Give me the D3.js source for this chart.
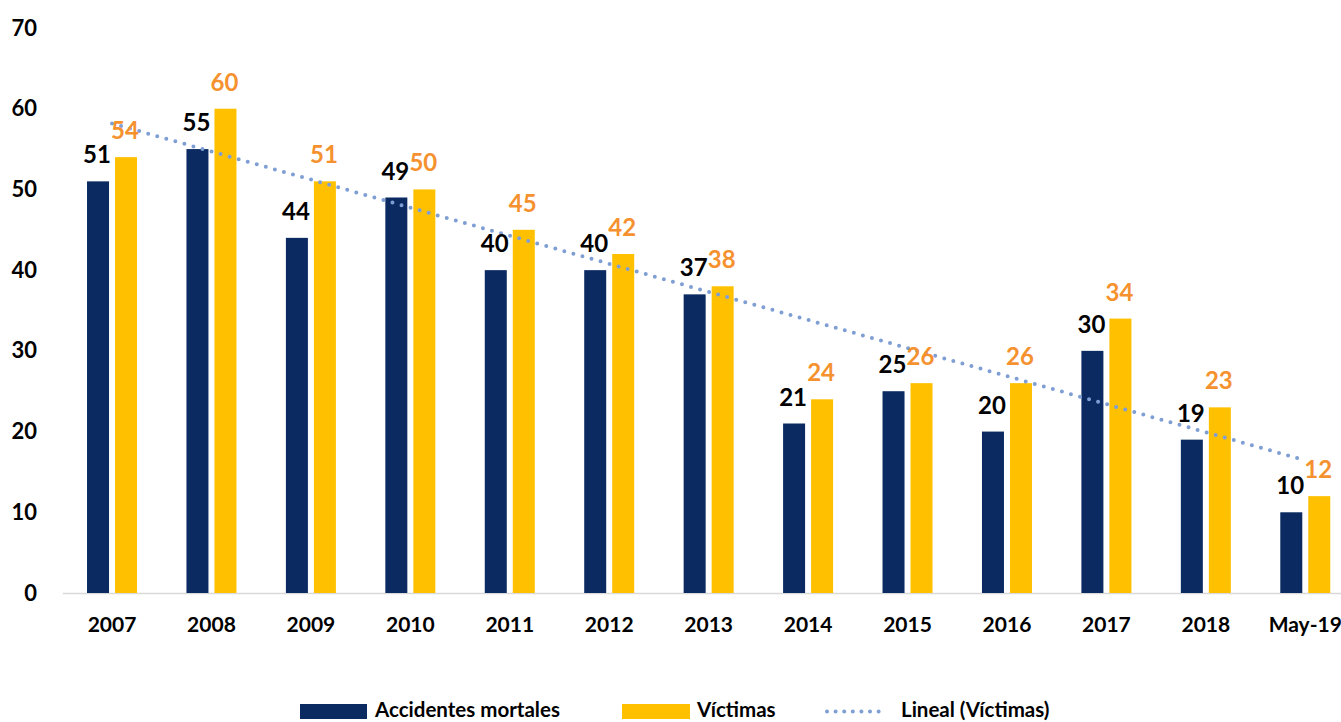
<!DOCTYPE html>
<html><head><meta charset="utf-8">
<script src="https://cdn.jsdelivr.net/npm/d3@7"></script>
<style>body{margin:0;background:#fff;overflow:hidden}svg{display:block}text{font-family:Lato,"Open Sans",sans-serif;font-weight:700}</style>
</head><body><svg id="c" width="1341" height="722"></svg>
<script>
const categories=["2007","2008","2009","2010","2011","2012","2013","2014","2015","2016","2017","2018","May-19"];
const accidentes=[51,55,44,49,40,40,37,21,25,20,30,19,10];
const victimas=[54,60,51,50,45,42,38,24,26,26,34,23,12];
const yTicks=[0,10,20,30,40,50,60,70];
const seriesNames=["Accidentes mortales","Víctimas","Lineal (Víctimas)"];

const svg=d3.select("#c");
const x=d3.scaleBand().domain(categories).range([62.3,1355]).paddingInner(0).paddingOuter(0);
const y=d3.scaleLinear().domain([0,70]).range([593,28]);
const bw=22,gap=6;
const navy="#0B2A62",gold="#FFC000",orange="#F5922F",trend="#7F9ED3";

// y axis labels
const ya=svg.append("g").attr("transform","translate(37,0)").call(d3.axisLeft(y).tickValues(yTicks).tickSize(0).tickPadding(0));
ya.select(".domain").remove();
ya.selectAll("text").attr("font-size",22).attr("fill","#000").style("font-family","Lato").style("font-weight",700);

// baseline axis
const xa=svg.append("g").attr("transform","translate(0,593)").call(d3.axisBottom(x).tickSize(0).tickPadding(24));
xa.select(".domain").attr("stroke","#D9D9D9").attr("stroke-width",1.5);
xa.selectAll("text").attr("font-size",21).attr("fill","#000").style("font-family","Lato").style("font-weight",700);

const cx=c=>x(c)+x.bandwidth()/2;
// bars
svg.append("g").selectAll("rect").data(categories).join("rect")
 .attr("x",(c)=>cx(c)-gap/2-bw).attr("width",bw)
 .attr("y",(c,i)=>y(accidentes[i])).attr("height",(c,i)=>y(0)-y(accidentes[i])).attr("fill",navy);
svg.append("g").selectAll("rect").data(categories).join("rect")
 .attr("x",(c)=>cx(c)+gap/2).attr("width",bw)
 .attr("y",(c,i)=>y(victimas[i])).attr("height",(c,i)=>y(0)-y(victimas[i])).attr("fill",gold);

// trendline (linear regression on victimas)
const n=victimas.length, xs=d3.range(1,n+1);
const mx=d3.mean(xs), my=d3.mean(victimas);
const slope=d3.sum(xs,(v,i)=>(v-mx)*(victimas[i]-my))/d3.sum(xs,v=>(v-mx)*(v-mx));
const icpt=my-slope*mx;
svg.append("path").datum(categories)
 .attr("d",d3.line().x(c=>cx(c)).y((c,i)=>y(icpt+slope*(i+1))))
 .attr("fill","none").attr("stroke",trend).attr("stroke-width",4)
 .attr("stroke-linecap","round").attr("stroke-dasharray","0 9.4");

// labels
svg.append("g").selectAll("text").data(categories).join("text")
 .attr("x",c=>cx(c)-gap/2-bw/2-1).attr("y",(c,i)=>y(accidentes[i])-18)
 .attr("text-anchor","middle").attr("font-size",24).attr("fill","#000").text((c,i)=>accidentes[i]);
svg.append("g").selectAll("text").data(categories).join("text")
 .attr("x",c=>cx(c)+gap/2+bw/2-1).attr("y",(c,i)=>y(victimas[i])-18)
 .attr("text-anchor","middle").attr("font-size",24).attr("fill",orange).text((c,i)=>victimas[i]);

// legend
const lg=svg.append("g");
lg.append("rect").attr("x",300).attr("y",704).attr("width",67).attr("height",15).attr("fill",navy);
lg.append("text").attr("x",375).attr("y",716.5).attr("font-size",20.5).attr("fill","#000").text(seriesNames[0]);
lg.append("rect").attr("x",622).attr("y",704).attr("width",68).attr("height",15).attr("fill",gold);
lg.append("text").attr("x",697).attr("y",716.5).attr("font-size",20.5).attr("fill","#000").text(seriesNames[1]);
lg.append("line").attr("x1",827).attr("x2",887).attr("y1",711.5).attr("y2",711.5).attr("stroke",trend)
 .attr("stroke-width",4).attr("stroke-linecap","round").attr("stroke-dasharray","0 8.6");
lg.append("text").attr("x",901).attr("y",716.5).attr("font-size",20.5).attr("fill","#000").text(seriesNames[2]);
</script></body></html>
